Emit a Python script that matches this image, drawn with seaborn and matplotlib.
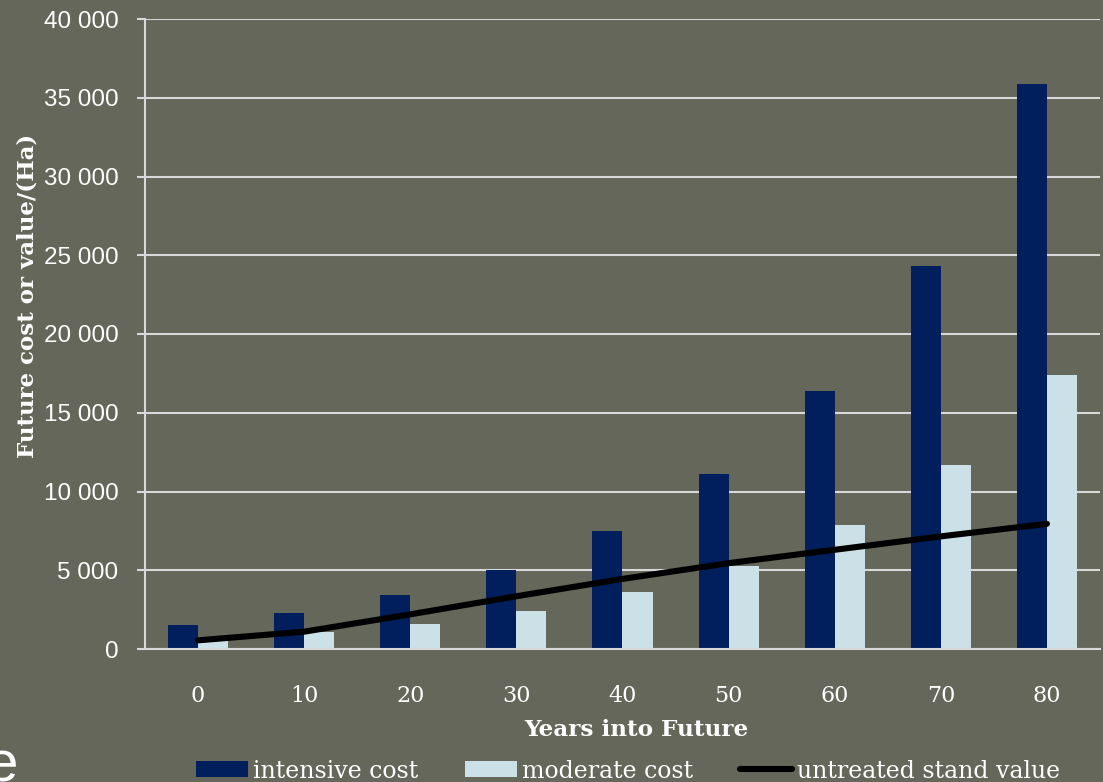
import matplotlib
matplotlib.use("Agg")
import matplotlib.pyplot as plt
import seaborn as sns
import pandas as pd
from matplotlib.patches import Patch
from matplotlib.lines import Line2D

# Data
years = ["0", "10", "20", "30", "40", "50", "60", "70", "80"]
intensive_cost = [1500, 2300, 3400, 5000, 7500, 11100, 16400, 24300, 35900]
moderate_cost = [500, 1100, 1600, 2400, 3600, 5300, 7900, 11700, 17400]
untreated_value = [550, 1100, 2200, 3350, 4450, 5450, 6300, 7150, 7950]

BG = "#65675A"
NAVY = "#001F5C"
PALE = "#CCE0E8"
GRID = "#D9D9D9"
WHITE = "#FFFFFF"

sns.set_theme(style="white")
plt.rcParams["font.family"] = ["DejaVu Serif"]

bars = pd.DataFrame({
    "year": years * 2,
    "cost": intensive_cost + moderate_cost,
    "kind": ["intensive cost"] * len(years) + ["moderate cost"] * len(years),
})
line = pd.DataFrame({"pos": list(range(len(years))), "value": untreated_value})

fig = plt.figure(figsize=(11.03, 7.82), dpi=100, facecolor=BG)
ax = fig.add_axes([145 / 1103, 1 - 649 / 782, 955 / 1103, 630 / 782])
ax.set_facecolor(BG)

sns.barplot(data=bars, x="year", y="cost", hue="kind", order=years,
            palette=[NAVY, PALE], width=0.566, saturation=1,
            edgecolor="none", legend=False, ax=ax)
sns.lineplot(data=line, x="pos", y="value", color="black", linewidth=4.4,
             solid_capstyle="round", ax=ax, zorder=5)

ax.set_xlim(-0.5, len(years) - 0.5)
ax.set_ylim(0, 40000)
ax.set_yticks(range(0, 40001, 5000))
ax.set_yticklabels([f"{v:,}".replace(",", " ") for v in range(0, 40001, 5000)],
                   family="Liberation Sans", fontsize=17.5, color=WHITE)
ax.set_xticks(range(len(years)))
ax.set_xticklabels(years, fontsize=16, color=WHITE)
ax.grid(axis="y", color=GRID, linewidth=1.5, zorder=0)
ax.set_axisbelow(True)
for s in ("top", "right"):
    ax.spines[s].set_visible(False)
ax.spines["left"].set_color(GRID)
ax.spines["left"].set_linewidth(1.5)
ax.spines["bottom"].set_color(GRID)
ax.spines["bottom"].set_linewidth(1.5)
ax.tick_params(axis="y", length=6, width=1.5, color=GRID, pad=13, left=True)
ax.tick_params(axis="x", length=0, pad=26)

ax.set_xlabel("Years into Future", fontsize=16.7, fontweight="bold", color=WHITE)
ax.xaxis.set_label_coords(0.515, (649 - 730) / 630, transform=ax.transAxes)
ax.xaxis.label.set_va("center")
ax.set_ylabel("Future cost or value/(Ha)", fontsize=16.5, fontweight="bold", color=WHITE)
ax.yaxis.set_label_coords((28 - 145) / 955, (649 - 296) / 630, transform=ax.transAxes)
ax.yaxis.label.set_va("center")

handles = [
    Patch(facecolor=NAVY, edgecolor="none"),
    Patch(facecolor=PALE, edgecolor="none"),
    Line2D([0], [0], color="black", linewidth=4.4, solid_capstyle="round"),
]
labels = ["intensive cost", "moderate cost", "untreated stand value"]
fig.legend(handles, labels, loc="center", bbox_to_anchor=(628 / 1103, 1 - 771 / 782),
           ncol=3, frameon=False, fontsize=17, labelcolor=WHITE,
           handlelength=2.2, handleheight=0.65, handletextpad=0.2, columnspacing=2.0,
           borderaxespad=0, borderpad=0)

# fragment of slide text at the lower-left corner
fig.text(18 / 1103, 1 - 781 / 782, "e", family="Liberation Sans", fontsize=42,
         color=WHITE, ha="right", va="baseline")

fig.savefig("out.png", dpi=100, facecolor=BG)
